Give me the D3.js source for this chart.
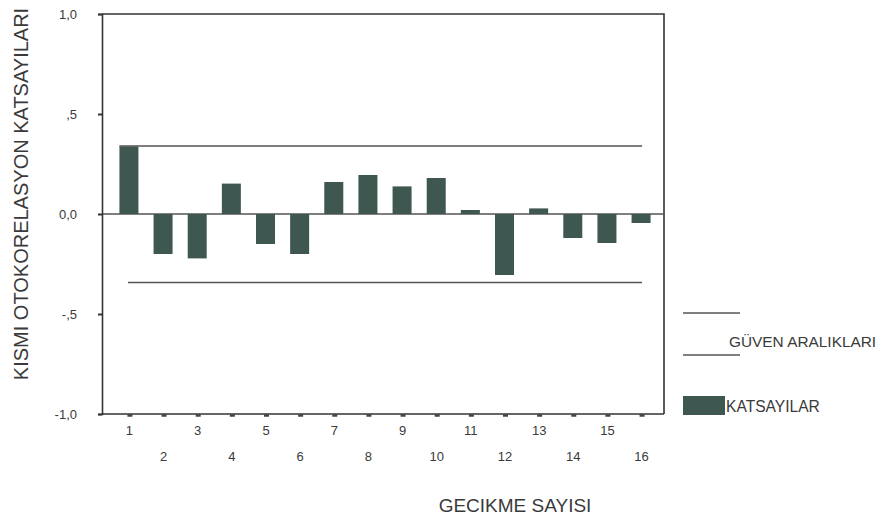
<!DOCTYPE html>
<html>
<head>
  <style>
    body { margin: 0; background: #fff; }
    text { font-family: "Liberation Sans", Arial, sans-serif; fill: #3a3a3a; }
  </style>
</head>
<body>
  <svg id="chart" width="879" height="521"></svg>

  <script src="https://d3js.org/d3.v7.min.js"></script>
  <script>
    // lags and partial autocorrelation coefficients
    const lags = [1, 2, 3, 4, 5, 6, 7, 8, 9, 10, 11, 12, 13, 14, 15, 16];
    const pacf = [0.338, -0.20, -0.222, 0.152, -0.15, -0.20, 0.16, 0.195,
                  0.138, 0.18, 0.02, -0.305, 0.028, -0.12, -0.145, -0.045];
    const confLimit = [0.34, -0.342];
    const yTicks = [1, 0.5, 0, -0.5, -1];
    const yTickLabels = ["1,0", ",5", "0,0", "-,5", "-1,0"];

    const svg = d3.select("#chart");
    const plotLeft = 102, plotRight = 664, plotTop = 14, plotBottom = 414;
    const barColor = "#3e5750";
    const lineColor = "#555";

    const x = d3.scalePoint().domain(lags).range([plotLeft, plotRight]).padding(0.73);
    const y = d3.scaleLinear().domain([-1, 1]).range([plotBottom, plotTop]);
    const barW = 19;

    // frame (top and right)
    svg.append("path")
      .attr("d", `M${plotLeft},${plotTop}H${plotRight}V${plotBottom}`)
      .attr("fill", "none").attr("stroke", "#333").attr("stroke-width", 1.6);

    // zero line
    svg.append("line")
      .attr("x1", plotLeft).attr("x2", plotRight)
      .attr("y1", y(0)).attr("y2", y(0))
      .attr("stroke", lineColor).attr("stroke-width", 1.3);

    // bars
    svg.selectAll(".bar")
      .data(pacf)
      .enter().append("rect")
      .attr("class", "bar")
      .attr("x", (d, i) => x(lags[i]) - barW / 2 + 2)
      .attr("y", d => y(Math.max(0, d)))
      .attr("width", barW)
      .attr("height", d => Math.abs(y(d) - y(0)))
      .attr("fill", barColor);

    // confidence limits
    svg.append("line")
      .attr("x1", x(1) - barW / 2 + 2).attr("x2", x(16) + 3)
      .attr("y1", y(confLimit[0])).attr("y2", y(confLimit[0]))
      .attr("stroke", lineColor).attr("stroke-width", 1.5);
    svg.append("line")
      .attr("x1", x(1) + 1).attr("x2", x(16) + 3)
      .attr("y1", y(confLimit[1])).attr("y2", y(confLimit[1]))
      .attr("stroke", lineColor).attr("stroke-width", 1.5);

    // y axis
    const yAxis = d3.axisLeft(y)
      .tickValues(yTicks)
      .tickFormat((d, i) => yTickLabels[i])
      .tickSize(4)
      .tickPadding(21);
    const gy = svg.append("g").attr("transform", `translate(${plotLeft},0)`).call(yAxis);
    gy.select(".domain").attr("stroke", "#333").attr("stroke-width", 1.6);
    gy.selectAll(".tick line").attr("stroke", "#333").attr("stroke-width", 2);
    gy.selectAll(".tick text").attr("font-size", 13).attr("fill", "#3a3a3a");

    // x axis
    const xAxis = d3.axisBottom(x).tickSize(0).tickFormat(d => d);
    const gx = svg.append("g").attr("transform", `translate(0,${plotBottom})`).call(xAxis);
    gx.select(".domain").attr("d", `M${plotLeft},0H${plotRight}`).attr("stroke", "#333").attr("stroke-width", 1.6);
    gx.selectAll(".tick").append("line")
      .attr("x1", 0).attr("x2", 5).attr("y1", 1.5).attr("y2", 1.5)
      .attr("stroke", "#444").attr("stroke-width", 2.5);
    gx.selectAll(".tick text")
      .attr("font-size", 13).attr("fill", "#3a3a3a")
      .attr("x", 2)
      .attr("y", d => d % 2 === 1 ? 12 : 38);

    // axis titles
    svg.append("text")
      .attr("transform", "translate(28,194) rotate(-90)")
      .attr("text-anchor", "middle")
      .attr("font-size", 20)
      .text("KISMI OTOKORELASYON KATSAYILARI");
    svg.append("text")
      .attr("x", 515).attr("y", 512)
      .attr("text-anchor", "middle")
      .attr("font-size", 19)
      .text("GECIKME SAYISI");

    // legend
    const legend = svg.append("g");
    legend.append("line").attr("x1", 683).attr("x2", 740).attr("y1", 313).attr("y2", 313)
      .attr("stroke", lineColor).attr("stroke-width", 1.5);
    legend.append("line").attr("x1", 683).attr("x2", 740).attr("y1", 355).attr("y2", 355)
      .attr("stroke", lineColor).attr("stroke-width", 1.5);
    legend.append("text").attr("x", 729).attr("y", 347).attr("font-size", 15.4)
      .text("GÜVEN ARALIKLARI");
    legend.append("rect").attr("x", 683).attr("y", 396).attr("width", 42).attr("height", 19)
      .attr("fill", barColor);
    legend.append("text").attr("x", 726).attr("y", 412).attr("font-size", 15.6)
      .text("KATSAYILAR");
  </script>
</body>
</html>
